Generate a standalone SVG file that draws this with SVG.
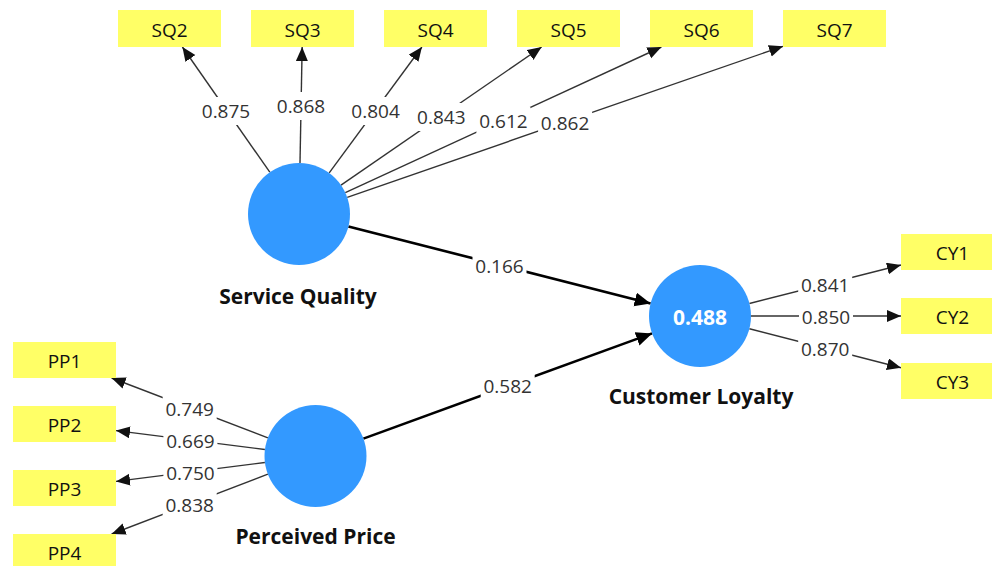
<svg xmlns="http://www.w3.org/2000/svg" width="992" height="566" viewBox="0 0 992 566">
<defs>
<marker id="ah" markerUnits="userSpaceOnUse" markerWidth="16" markerHeight="14" refX="14" refY="6" orient="auto">
<path d="M0,0 L14,6 L0,12 Z" fill="#111"/>
</marker>
<marker id="ahb" markerUnits="userSpaceOnUse" markerWidth="18" markerHeight="16" refX="16" refY="7" orient="auto">
<path d="M0,0 L16,7 L0,14 Z" fill="#000"/>
</marker>
</defs>
<style>
.ind{fill:#FFFF66}
.itxt{font-family:"Open Sans","Noto Sans",sans-serif;font-size:19px;fill:#111;text-anchor:middle;dominant-baseline:central}
.lv{fill:#3399FF}
.lname{font-family:"Open Sans","Noto Sans",sans-serif;font-size:21px;font-weight:bold;fill:#111;text-anchor:middle}
.r2{font-family:"Open Sans","Noto Sans",sans-serif;font-size:21px;font-weight:bold;fill:#fff;text-anchor:middle;dominant-baseline:central}
.ln{stroke:#333;stroke-width:1.4;fill:none;marker-end:url(#ah)}
.sp{stroke:#000;stroke-width:2.6;fill:none;marker-end:url(#ahb)}
.bg{fill:#fff}
.num{font-family:"Open Sans","Noto Sans",sans-serif;font-size:19px;fill:#333;text-anchor:middle;dominant-baseline:central}
</style>
<rect width="992" height="566" fill="#fff"/>
<g id="connectors">
<line class="ln" x1="269.8" y1="172.2" x2="182.4" y2="47"/>
<line class="ln" x1="300.0" y1="163.0" x2="302.15" y2="47"/>
<line class="ln" x1="329.2" y1="172.9" x2="421.9" y2="47"/>
<line class="ln" x1="341.0" y1="185.1" x2="541.6" y2="47"/>
<line class="ln" x1="345.3" y1="192.7" x2="661.4" y2="47"/>
<line class="ln" x1="347.2" y1="197.3" x2="783" y2="46.3"/>
<line class="ln" x1="749.4" y1="303.5" x2="901" y2="265.05"/>
<line class="ln" x1="751" y1="316" x2="901" y2="316"/>
<line class="ln" x1="749.4" y1="328.7" x2="901" y2="367.7"/>
<line class="ln" x1="267.9" y1="437.8" x2="111.6" y2="378"/>
<line class="ln" x1="264.9" y1="449.5" x2="116" y2="430.6"/>
<line class="ln" x1="264.9" y1="462.5" x2="116" y2="481.4"/>
<line class="ln" x1="267.9" y1="474.2" x2="111.6" y2="534"/>
<line class="sp" x1="348.4" y1="226.6" x2="650.6" y2="303.4"/>
<line class="sp" x1="363.4" y1="438.6" x2="652.1" y2="333.4"/>
<g id="labels">
<rect class="bg" x="199" y="97" width="54" height="28"/><text class="num" x="226" y="111">0.875</text>
<rect class="bg" x="274" y="92" width="54" height="28"/><text class="num" x="301" y="106">0.868</text>
<rect class="bg" x="348.6" y="97" width="54" height="28"/><text class="num" x="375.6" y="111">0.804</text>
<rect class="bg" x="414.3" y="103" width="54" height="28"/><text class="num" x="441.3" y="117">0.843</text>
<rect class="bg" x="476.4" y="107" width="54" height="26"/><text class="num" x="503.4" y="121">0.612</text>
<rect class="bg" x="538.1" y="109" width="54" height="26"/><text class="num" x="565.1" y="123">0.862</text>
<rect class="bg" x="798.2" y="272" width="54" height="26"/><text class="num" x="825.2" y="285">0.841</text>
<rect class="bg" x="799" y="304" width="54" height="26"/><text class="num" x="826" y="317">0.850</text>
<rect class="bg" x="798.2" y="336" width="54" height="26"/><text class="num" x="825.2" y="349">0.870</text>
<rect class="bg" x="162.7" y="396" width="54" height="26"/><text class="num" x="189.7" y="409">0.749</text>
<rect class="bg" x="163.4" y="428" width="54" height="26"/><text class="num" x="190.4" y="441">0.669</text>
<rect class="bg" x="163.4" y="460" width="54" height="26"/><text class="num" x="190.4" y="473">0.750</text>
<rect class="bg" x="162.7" y="492" width="54" height="26"/><text class="num" x="189.7" y="505">0.838</text>
<rect class="bg" x="472.5" y="251" width="54" height="30"/><text class="num" x="499.5" y="266">0.166</text>
<rect class="bg" x="480.7" y="371" width="54" height="30"/><text class="num" x="507.7" y="386">0.582</text>
</g>
</g>
<g id="SQ2"><rect class="ind" x="118" y="10" width="103" height="37"/><text class="itxt" x="169.5" y="29.5">SQ2</text></g>
<g id="SQ3"><rect class="ind" x="251" y="10" width="103" height="37"/><text class="itxt" x="302.5" y="29.5">SQ3</text></g>
<g id="SQ4"><rect class="ind" x="384" y="10" width="103" height="37"/><text class="itxt" x="435.5" y="29.5">SQ4</text></g>
<g id="SQ5"><rect class="ind" x="517" y="10" width="103" height="37"/><text class="itxt" x="568.5" y="29.5">SQ5</text></g>
<g id="SQ6"><rect class="ind" x="650" y="10" width="103" height="37"/><text class="itxt" x="701.5" y="29.5">SQ6</text></g>
<g id="SQ7"><rect class="ind" x="783" y="10" width="103" height="37"/><text class="itxt" x="834.5" y="29.5">SQ7</text></g>
<g id="CY1"><rect class="ind" x="901" y="234" width="103" height="36"/><text class="itxt" x="952.5" y="253">CY1</text></g>
<g id="CY2"><rect class="ind" x="901" y="298" width="103" height="36"/><text class="itxt" x="952.5" y="317">CY2</text></g>
<g id="CY3"><rect class="ind" x="901" y="363" width="103" height="36"/><text class="itxt" x="952.5" y="382">CY3</text></g>
<g id="PP1"><rect class="ind" x="13" y="342" width="103" height="36"/><text class="itxt" x="64.5" y="361">PP1</text></g>
<g id="PP2"><rect class="ind" x="13" y="406" width="103" height="36"/><text class="itxt" x="64.5" y="425">PP2</text></g>
<g id="PP3"><rect class="ind" x="13" y="470" width="103" height="36"/><text class="itxt" x="64.5" y="489">PP3</text></g>
<g id="PP4"><rect class="ind" x="13" y="534" width="103" height="36"/><text class="itxt" x="64.5" y="553">PP4</text></g>
<g id="ServiceQuality"><circle class="lv" cx="299" cy="214" r="51"/><text class="lname" x="298" y="304">Service Quality</text></g>
<g id="CustomerLoyalty"><circle class="lv" cx="700" cy="316" r="51"/><text class="r2" x="700" y="317">0.488</text><text class="lname" x="701" y="404">Customer Loyalty</text></g>
<g id="PerceivedPrice"><circle class="lv" cx="315.5" cy="456" r="51"/><text class="lname" x="315.5" y="544">Perceived Price</text></g>
</svg>
